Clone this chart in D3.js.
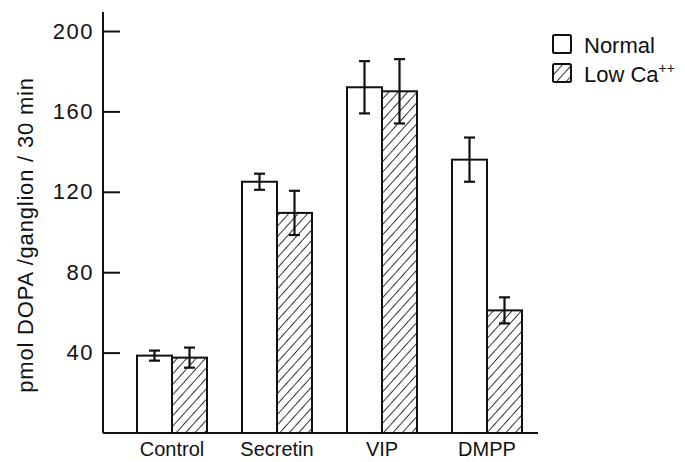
<!DOCTYPE html>
<html>
<head>
<meta charset="utf-8">
<script src="https://cdn.jsdelivr.net/npm/d3@7"></script>
<style>
  body { margin: 0; background: #fff; }
  text { font-family: "Liberation Sans", Arial, sans-serif; fill: #111; }
</style>
</head>
<body>
<script>
'use strict';

// données
const categories = ["Control", "Secretin", "VIP", "DMPP"];
const series = ["Normal", "Low Ca"];
const normal = [38.5, 125, 172, 136];
const normalErr = [2.5, 4, 13, 11];
const lowCa = [37.5, 109.5, 170, 61];
const lowCaErr = [5, 11, 16, 6.5];
const yTicks = [40, 80, 120, 160, 200];

const svg = d3.select("body").append("svg")
  .attr("width", 685)
  .attr("height", 462);

// motif hachuré
svg.append("defs").append("pattern")
  .attr("id", "hatch")
  .attr("patternUnits", "userSpaceOnUse")
  .attr("width", 7)
  .attr("height", 7)
  .attr("patternTransform", "rotate(42)")
  .append("line")
    .attr("x1", 0).attr("y1", 0)
    .attr("x2", 0).attr("y2", 7)
    .style("stroke", "#111")
    .style("stroke-width", 1.7);

const x = d3.scaleBand()
  .domain(categories)
  .range([137, 522])
  .paddingInner(1 / 3)
  .paddingOuter(0);

const xs = d3.scaleBand()
  .domain(series)
  .range([0, x.bandwidth()]);

const y = d3.scaleLinear()
  .domain([0, 200])
  .range([433, 31]);

const donnees = [];
categories.forEach(function(c, i) {
  donnees.push({cat: c, s: "Normal", v: normal[i], e: normalErr[i]});
  donnees.push({cat: c, s: "Low Ca", v: lowCa[i], e: lowCaErr[i]});
});

// barres
svg.selectAll("rect.bar")
  .data(donnees)
  .enter()
  .append("rect")
    .attr("class", "bar")
    .attr("x", d => x(d.cat) + xs(d.s))
    .attr("y", d => y(d.v))
    .attr("width", xs.bandwidth())
    .attr("height", d => y(0) - y(d.v))
    .style("fill", d => d.s === "Normal" ? "#fff" : "url(#hatch)")
    .style("stroke", "#111")
    .style("stroke-width", 2);

// barres d'erreur
const err = svg.selectAll("g.err")
  .data(donnees)
  .enter()
  .append("g")
    .attr("class", "err")
    .attr("transform", d => "translate(" + (x(d.cat) + xs(d.s) + xs.bandwidth() / 2) + ",0)");

err.append("line")
  .attr("y1", d => y(d.v + d.e))
  .attr("y2", d => y(d.v - d.e))
  .style("stroke", "#111").style("stroke-width", 2.2);
err.append("line")
  .attr("x1", -5.5).attr("x2", 5.5)
  .attr("y1", d => y(d.v + d.e)).attr("y2", d => y(d.v + d.e))
  .style("stroke", "#111").style("stroke-width", 2.2);
err.append("line")
  .attr("x1", -5.5).attr("x2", 5.5)
  .attr("y1", d => y(d.v - d.e)).attr("y2", d => y(d.v - d.e))
  .style("stroke", "#111").style("stroke-width", 2.2);

// axe des Y
const axeY = svg.append("g")
  .attr("transform", "translate(103,0)")
  .call(d3.axisLeft(y).tickValues(yTicks).tickSizeInner(-17).tickSizeOuter(0).tickPadding(9));
axeY.select(".domain").remove();
axeY.selectAll(".tick line").style("stroke", "#111").style("stroke-width", 2);
axeY.selectAll(".tick text")
  .style("font-size", "22px")
  .style("letter-spacing", "1.5px")
  .style("font-family", "'Liberation Sans', Arial, sans-serif")
  .attr("fill", "#111");

svg.append("line")
  .attr("x1", 103).attr("x2", 103)
  .attr("y1", 12).attr("y2", y(0))
  .style("stroke", "#111").style("stroke-width", 2);

// axe des X
svg.append("line")
  .attr("x1", 103).attr("x2", 538)
  .attr("y1", y(0)).attr("y2", y(0))
  .style("stroke", "#111").style("stroke-width", 2);

svg.selectAll("text.cat")
  .data(categories)
  .enter()
  .append("text")
    .attr("class", "cat")
    .attr("x", d => x(d) + x.bandwidth() / 2)
    .attr("y", 456)
    .attr("text-anchor", "middle")
    .style("font-size", "20px")
    .text(d => d);

// titre de l'axe Y
svg.append("text")
  .attr("transform", "translate(33,235) rotate(-90)")
  .attr("text-anchor", "middle")
  .style("font-size", "22px")
  .style("letter-spacing", "0.8px")
  .text("pmol DOPA /ganglion / 30 min");

// légende
const legende = svg.append("g").attr("transform", "translate(553,35)");
const items = legende.selectAll("g")
  .data(series)
  .enter()
  .append("g")
    .attr("transform", (d, i) => "translate(0," + (i * 29) + ")");
items.append("rect")
  .attr("width", 18).attr("height", 18)
  .attr("rx", 1.5)
  .style("fill", d => d === "Normal" ? "#fff" : "url(#hatch)")
  .style("stroke", "#111")
  .style("stroke-width", 2);
const lt = items.append("text")
  .attr("x", 31).attr("y", 18)
  .style("font-size", "22px");
lt.append("tspan").text(d => d);
lt.filter(d => d === "Low Ca").append("tspan")
  .attr("dy", -9)
  .style("font-size", "14px")
  .text("++");
</script>
</body>
</html>
